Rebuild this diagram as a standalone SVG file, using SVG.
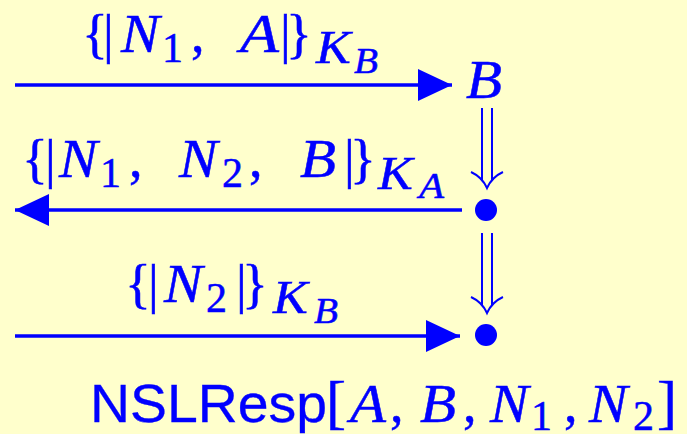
<svg xmlns="http://www.w3.org/2000/svg" width="687" height="434" viewBox="0 0 687 434">
<defs>
<style>
.bg{fill:#FFFFCC}
.ln{stroke:#0000FF;stroke-width:3.5;fill:none}
.dbl{stroke:#0000FF;stroke-width:2;fill:none}
.dot{fill:#0000FF}
text{fill:#0000FF;stroke:#0000FF;stroke-width:0.5}
.m{font-family:"Liberation Serif",serif;font-style:italic;font-size:54px}
.r{font-family:"Liberation Serif",serif;font-size:54px}
.br{font-family:"Liberation Serif",serif;font-size:60px}
.d{font-family:"Liberation Serif",serif;font-size:42px}
.k{font-family:"Liberation Serif",serif;font-style:italic;font-size:46px}
.kk{font-family:"Liberation Serif",serif;font-style:italic;font-size:36px}
.s{font-family:"Liberation Sans",sans-serif;font-size:53px;stroke-width:0.3}
</style>
<marker id="ah" markerUnits="userSpaceOnUse" markerWidth="34" markerHeight="32" refX="34" refY="16" orient="auto">
<path d="M0,0 L34,16 L0,32 Z" fill="#0000FF"/>
</marker>
</defs>
<rect class="bg" x="0" y="0" width="687" height="434"/>

<g id="node-B">
<text class="m" x="466" y="98" textLength="36" lengthAdjust="spacingAndGlyphs">B</text>
</g>
<g id="node-state1">
<circle class="dot" cx="486" cy="210" r="11"/>
</g>
<g id="node-state2">
<circle class="dot" cx="486" cy="335" r="11"/>
</g>

<g id="connectors">
<line class="ln" x1="15" y1="85" x2="452" y2="85" marker-end="url(#ah)"/>
<line class="ln" x1="462" y1="210" x2="15" y2="210" marker-end="url(#ah)"/>
<line class="ln" x1="15" y1="336" x2="460" y2="336" marker-end="url(#ah)"/>
<g id="step1">
<line class="dbl" x1="482" y1="108" x2="482" y2="180"/>
<line class="dbl" x1="492" y1="108" x2="492" y2="180"/>
<path class="dbl" d="M471,172 Q482,177 487,188 Q492,177 503,172"/>
</g>
<g id="step2">
<line class="dbl" x1="482" y1="233" x2="482" y2="305"/>
<line class="dbl" x1="492" y1="233" x2="492" y2="305"/>
<path class="dbl" d="M471,297 Q482,302 487,313 Q492,302 503,297"/>
</g>
</g>

<g id="label-msg1">
<text class="r" x="82" y="52">{<tspan x="103">|</tspan></text>
<text class="m" x="121" y="52" textLength="38.5" lengthAdjust="spacingAndGlyphs">N</text>
<text class="d" x="162" y="62">1</text>
<text class="r" x="191" y="52">,</text>
<text class="m" x="240" y="52" textLength="39" lengthAdjust="spacingAndGlyphs">A</text>
<text class="r" x="280" y="52">|<tspan x="286">}</tspan></text>
<text class="k" x="316" y="63" textLength="34.7" lengthAdjust="spacingAndGlyphs">K</text>
<text class="kk" x="354" y="73" textLength="24" lengthAdjust="spacingAndGlyphs">B</text>
</g>

<g id="label-msg2">
<text class="r" x="22" y="177">{<tspan x="45">|</tspan></text>
<text class="m" x="59" y="177" textLength="38.5" lengthAdjust="spacingAndGlyphs">N</text>
<text class="d" x="100" y="187">1</text>
<text class="r" x="129" y="177">,</text>
<text class="m" x="179" y="177" textLength="38.5" lengthAdjust="spacingAndGlyphs">N</text>
<text class="d" x="222" y="187">2</text>
<text class="r" x="249" y="177">,</text>
<text class="m" x="300" y="177" textLength="36" lengthAdjust="spacingAndGlyphs">B</text>
<text class="r" x="344" y="177">|<tspan x="350">}</tspan></text>
<text class="k" x="378" y="189" textLength="34.7" lengthAdjust="spacingAndGlyphs">K</text>
<text class="kk" x="419" y="198" textLength="25" lengthAdjust="spacingAndGlyphs">A</text>
</g>

<g id="label-msg3">
<text class="r" x="125" y="302">{<tspan x="148">|</tspan></text>
<text class="m" x="164" y="302" textLength="38.5" lengthAdjust="spacingAndGlyphs">N</text>
<text class="d" x="206" y="312">2</text>
<text class="r" x="236" y="302">|<tspan x="242">}</tspan></text>
<text class="k" x="273" y="313" textLength="34.7" lengthAdjust="spacingAndGlyphs">K</text>
<text class="kk" x="314" y="323" textLength="24" lengthAdjust="spacingAndGlyphs">B</text>
</g>

<g id="label-role">
<text class="s" x="90" y="422" textLength="237" lengthAdjust="spacingAndGlyphs">NSLResp</text>
<text class="br" x="326" y="422">[</text>
<text class="m" x="350" y="422" textLength="36" lengthAdjust="spacingAndGlyphs">A</text>
<text class="r" x="390" y="422">,</text>
<text class="m" x="420" y="422" textLength="36" lengthAdjust="spacingAndGlyphs">B</text>
<text class="r" x="463" y="422">,</text>
<text class="m" x="490" y="422" textLength="38.5" lengthAdjust="spacingAndGlyphs">N</text>
<text class="d" x="531" y="430">1</text>
<text class="r" x="564" y="422">,</text>
<text class="m" x="589" y="422" textLength="38.5" lengthAdjust="spacingAndGlyphs">N</text>
<text class="d" x="633" y="430">2</text>
<text class="br" x="657" y="422">]</text>
</g>
</svg>
